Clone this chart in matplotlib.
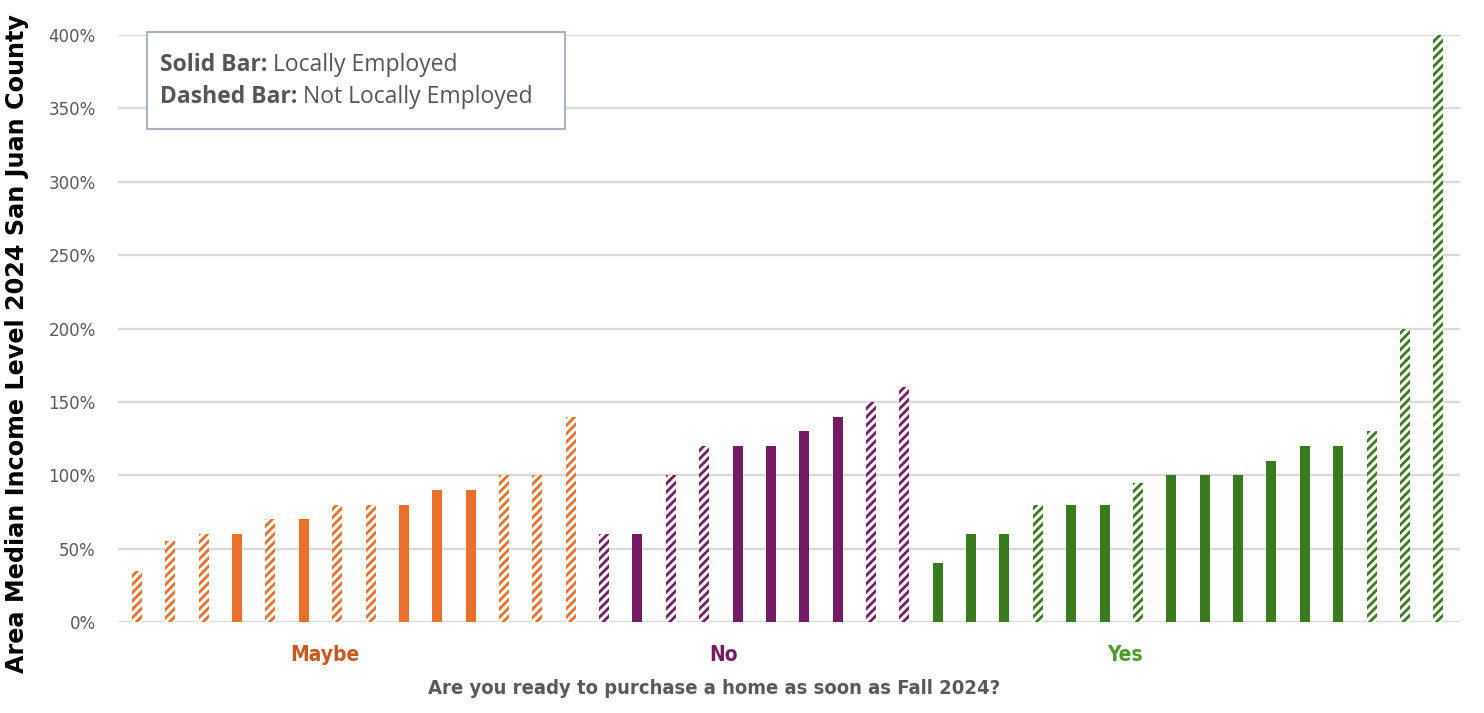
import matplotlib.pyplot as plt
import numpy as np
from matplotlib.patches import Rectangle

plt.rcParams['hatch.linewidth'] = 2.0

# data (AMI %), grouped by answer
groups = ['Maybe', 'No', 'Yes']
group_colors = {'Maybe': '#E8702A', 'No': '#751B66', 'Yes': '#3A7A1F'}
label_colors = {'Maybe': '#C8581E', 'No': '#751B66', 'Yes': '#4E9A2C'}

maybe_vals = [35, 55, 60, 60, 70, 70, 80, 80, 80, 90, 90, 100, 100, 140]
maybe_local = [0, 0, 0, 1, 0, 1, 0, 0, 1, 1, 1, 0, 0, 0]

no_vals = [60, 60, 100, 120, 120, 120, 130, 140, 150, 160]
no_local = [0, 1, 0, 0, 1, 1, 1, 1, 0, 0]

yes_vals = [40, 60, 60, 80, 80, 80, 95, 100, 100, 100, 110, 120, 120, 130, 200, 400]
yes_local = [1, 1, 1, 0, 1, 1, 0, 1, 1, 1, 1, 1, 1, 0, 0, 0]

yticks = [0, 50, 100, 150, 200, 250, 300, 350, 400]

fig = plt.figure(figsize=(14.84, 7.13), dpi=100)
ax = fig.add_axes([0.0795, 0.1276, 0.9045, 0.8233])

vals = maybe_vals + no_vals + yes_vals
local = maybe_local + no_local + yes_local
cats = ['Maybe'] * len(maybe_vals) + ['No'] * len(no_vals) + ['Yes'] * len(yes_vals)
x = np.arange(len(vals))

for i in range(len(vals)):
    c = group_colors[cats[i]]
    if local[i]:
        ax.bar(x[i], vals[i], width=0.3, color=c, linewidth=0, zorder=3)
    else:
        ax.bar(x[i], vals[i], width=0.3, facecolor='white', edgecolor=c,
               hatch='////', linewidth=0, zorder=3)

ax.set_xlim(-0.57, len(vals) - 1 + 0.66)
ax.set_ylim(0, 400)
ax.set_yticks(yticks)
ax.set_yticklabels([f'{t}%' for t in yticks], color='#595959', fontsize=12)
ax.tick_params(axis='y', length=0, pad=16)
ax.set_xticks([])
ax.grid(axis='y', color='#d9d9d9', linewidth=1.6, zorder=0)
for s in ax.spines.values():
    s.set_visible(False)
ax.set_ylabel('Area Median Income Level 2024 San Juan County', fontsize=17.2,
              fontweight='heavy', color='black')
ax.yaxis.set_label_coords(-0.066, 0.474)

# category labels under the bars
cat_x = [325, 724, 1125]
for g, px in zip(groups, cat_x):
    fig.text(px / 1484, 1 - 655 / 713, g, ha='center', va='center',
             fontsize=15, fontweight='bold', color=label_colors[g],
             family='DejaVu Sans', fontstretch='condensed')
fig.text(714 / 1484, 1 - 688 / 713, 'Are you ready to purchase a home as soon as Fall 2024?',
         ha='center', va='center', fontsize=14.5, fontweight='bold', color='#595959',
         family='DejaVu Sans', fontstretch='condensed')

# legend box
box = Rectangle((147 / 1484, 1 - 129 / 713), 418 / 1484, 97 / 713, transform=fig.transFigure,
                facecolor='white', edgecolor='#a9b2c0', linewidth=1.5, zorder=5)
fig.patches.append(box)
renderer = fig.canvas.get_renderer()
for ypx, bold, rest in [(65, 'Solid Bar:', 'Locally Employed'),
                        (97, 'Dashed Bar:', 'Not Locally Employed')]:
    t = fig.text(160 / 1484, 1 - ypx / 713, bold, fontsize=16.5, fontweight='bold',
                 color='#555555', va='center', family='Open Sans', zorder=6)
    bb = t.get_window_extent(renderer)
    fig.text(bb.x1 / 1484 + 0.004, 1 - ypx / 713, rest, fontsize=16.5,
             color='#555555', va='center', family='Open Sans', zorder=6)

plt.savefig('out.png', dpi=100)
